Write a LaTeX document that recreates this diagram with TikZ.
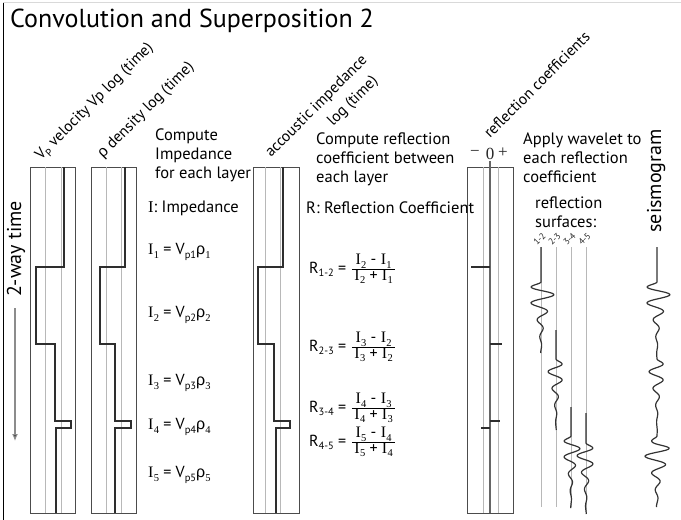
\documentclass[tikz,border=0pt]{standalone}
\usepackage{fontspec}
\setmainfont{PT Sans}
\newfontfamily\serf{Liberation Serif}
\newfontfamily\grk{Liberation Sans}
\usetikzlibrary{arrows.meta}
\newcommand{\subs}[1]{\raisebox{-0.22em}{\fontsize{10.5}{10.5}\selectfont #1}}
\newcommand{\Iv}[1]{{\serf I\kern0.3pt\subs{#1}}}
\newcommand{\rhov}[1]{{\grk ρ}\subs{\serf #1}}
\newcommand{\rfrac}[2]{$\textstyle\frac{\mbox{\,#1\,}}{\mbox{\,#2\,}}$}
\begin{document}
\begin{tikzpicture}[x=1pt,y=-1pt,
  declare function={wv(\t)=sin((min(max(\t,0),85)/17)*360)*(min(max(\t,0),85)/11)*exp(1-min(max(\t,0),85)/11);},
  txt/.style={font=\fontsize{16.5}{19}\selectfont, inner sep=0pt, align=left, text=black},
  eq/.style={font=\fontsize{16}{19}\selectfont, inner sep=0pt, text=black, anchor=west},
  rot/.style={font=\fontsize{15.5}{19}\selectfont, inner sep=0pt, rotate=45, anchor=base west, text=black},
  big/.style={font=\fontsize{20}{24}\selectfont, inner sep=0pt, rotate=90, anchor=base, text=black},
  tiny/.style={font=\fontsize{9}{9}\selectfont, inner sep=0pt, rotate=45, anchor=base west, text=black!85},
  pm/.style={font=\serf\fontsize{17}{17}\selectfont, inner sep=0pt, text=black!85},
  boxl/.style={draw=black!70, line width=1pt},
  gl/.style={draw=black!28, line width=0.8pt},
  logl/.style={draw=black!82, line width=1.4pt},
  cl/.style={draw=black!60, line width=1.6pt},
  wave/.style={draw=black!80, line width=1.2pt}]
\useasboundingbox (0,0) rectangle (681,520);
\fill[white] (0,0) rectangle (681,520);
% frame lines
\draw[black!15, line width=0.8pt] (3,2) -- (681,2);
\draw[black, line width=1pt] (3,3) -- (3,520);
% title
\node[anchor=base west, inner sep=0pt, font=\fontsize{26}{30}\selectfont, text=black] (title) at (10,27) {Convolution and Superposition 2};

% column 1 : Vp
\draw[boxl] (30,167) rectangle (75,513);
\draw[gl] (45,167) -- (45,513) (61,167) -- (61,513);
\draw[logl] (64,167) |- (36,267) |- (55,344) |- (71,421) |- (56,428) -- (56,513);
% column 2 : rho
\draw[boxl] (91,167) rectangle (136,513);
\draw[gl] (106,167) -- (106,513) (121,167) -- (121,513);
\draw[logl] (125,167) |- (100,267) |- (115,344) |- (131,421) |- (115,428) -- (115,513);
% column 3 : impedance
\draw[boxl] (253,167) rectangle (299,513);
\draw[gl] (265,167) -- (265,513) (280,167) -- (280,513);
\draw[logl] (283,167) |- (258,267) |- (274,344) |- (290,421) |- (276,428) -- (276,513);
% column 4 : reflection coefficients
\draw[boxl] (467,167) rectangle (513,513);
\draw[gl] (483,167) -- (483,513) (498,167) -- (498,513);
\draw[cl] (490,161) -- (490,513);
\draw[logl] (471,267) -- (490,267) (490,344) -- (502,344) (490,421) -- (500,421) (481,428) -- (490,428);
\node[pm] (minus) at (475,153) {−};
\node[pm] (zero) at (490,154) {0};
\node[pm] (plus) at (503,153) {+};

% rotated headers
\node[rot] (vp) at (41,161) {V\subs{P} velocity Vp log (time)};
\node[rot] (rho) at (103,159) {{\grk ρ} density log (time)};
\node[rot] (ai) at (271,158) {accoustic impedance};
\node[rot] (ailog) at (333,127) {log (time)};
\node[rot] (rc) at (490,139) {reflection coefficients};

% text blocks
\node[txt, anchor=north west] (cimp) at (155,129) {Compute\\Impedance\\for each layer};
\node[txt, anchor=west] (imp) at (148,208) {{\serf I}: Impedance};
\node[eq] (i1) at (148,252) {\Iv{1} = V\subs{p1}\rhov{1}};
\node[eq] (i2) at (148,315) {\Iv{2} = V\subs{p2}\rhov{2}};
\node[eq] (i3) at (148,383) {\Iv{3} = V\subs{p3}\rhov{3}};
\node[eq] (i4) at (148,427) {\Iv{4} = V\subs{p4}\rhov{4}};
\node[eq] (i5) at (148,475) {\Iv{5} = V\subs{p5}\rhov{5}};

\node[txt, anchor=north west] (crefl) at (316,133) {Compute reflection\\coefficient between\\each layer};
\node[txt, anchor=west] (rdef) at (306,208) {R: Reflection Coefficient};
\node[eq] (r12) at (309,269) {R\subs{1-2} = \rfrac{\Iv{2} - \Iv{1}}{\Iv{2} + \Iv{1}}};
\node[eq] (r23) at (309,347) {R\subs{2-3} = \rfrac{\Iv{3} - \Iv{2}}{\Iv{3} + \Iv{2}}};
\node[eq] (r34) at (309,408) {R\subs{3-4} = \rfrac{\Iv{4} - \Iv{3}}{\Iv{4} + \Iv{3}}};
\node[eq] (r45) at (309,442) {R\subs{4-5} = \rfrac{\Iv{5} - \Iv{4}}{\Iv{5} + \Iv{4}}};

\node[txt, anchor=north west] (apply) at (523,133) {Apply wavelet to\\each reflection\\coefficient};
\node[txt, anchor=north west] (rsurf) at (535,197) {reflection\\surfaces:};
\node[tiny] (l12) at (537,246) {1-2};
\node[tiny] (l23) at (552,246) {2-3};
\node[tiny] (l34) at (567,246) {3-4};
\node[tiny] (l45) at (582,246) {4-5};

% 2-way time
\node[big] (twt) at (21,249) {2-way time};
\coordinate (ta) at (15,308);
\coordinate (tb) at (15,441);
\draw[black!45, line width=1.2pt, -{Latex[length=7pt,width=6pt,fill=black!85]}] (ta) -- (tb);

% seismogram label
\node[big] (seis) at (661,181) {seismogram};

% wavelet traces
\draw[gl] (541,247) -- (541,507);
\draw[gl] (556,247) -- (556,507);
\draw[gl] (571,247) -- (571,507);
\draw[gl] (586,247) -- (586,514);
\draw[wave] plot[domain=247:353, samples=180] ({541-13*wv(\x-282)},{\x});
\draw[wave] plot[domain=330:430, samples=180] ({556+8*wv(\x-359)},{\x});
\draw[wave] plot[domain=407:508, samples=180] ({571-9*wv(\x-436)},{\x});
\draw[wave] plot[domain=413:514, samples=180] ({586+9*wv(\x-443)},{\x});
% seismogram
\draw[wave] plot[domain=247:507, samples=420] ({657-13*wv(\x-282)+8*wv(\x-359)-7*wv(\x-436)+7*wv(\x-443)},{\x});
\end{tikzpicture}
\end{document}
